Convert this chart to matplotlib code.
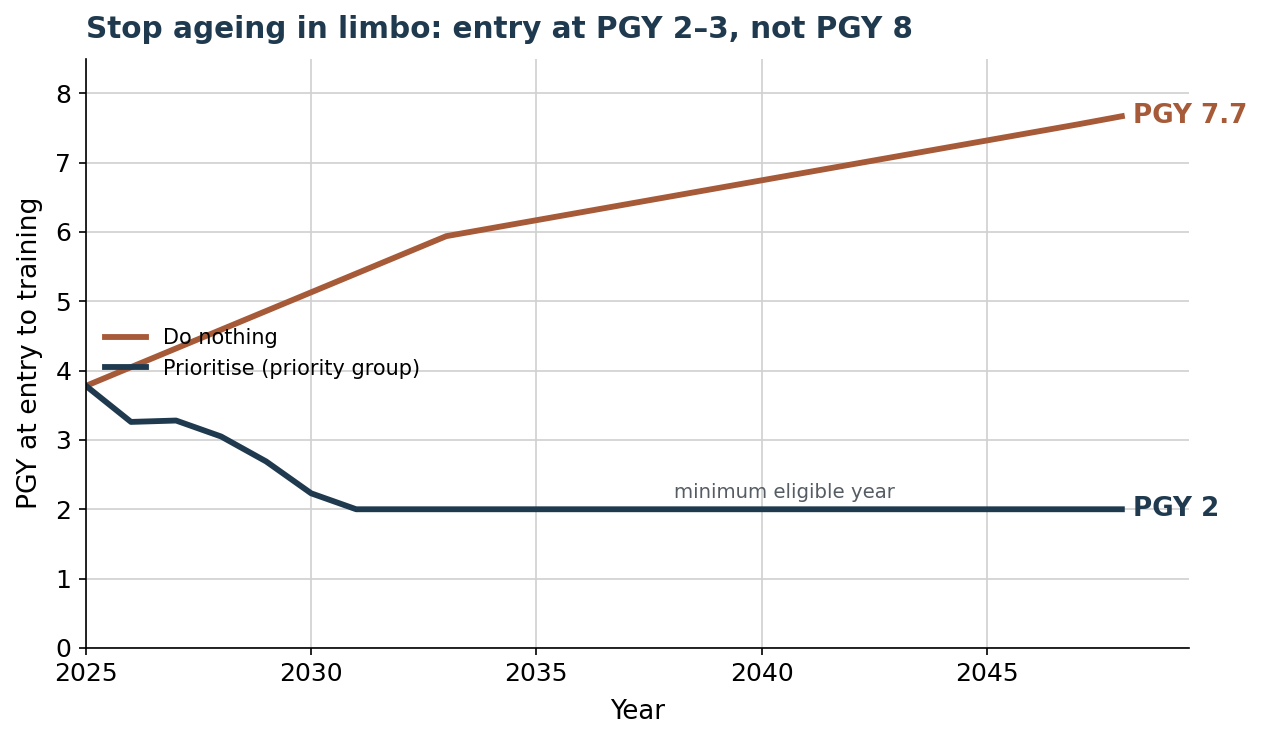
import numpy as np
import matplotlib.pyplot as plt

years = np.arange(2025, 2049)
do_nothing = [3.78, 4.05, 4.32, 4.59, 4.86, 5.13, 5.40, 5.67, 5.94,
              6.055, 6.17, 6.285, 6.40, 6.515, 6.63, 6.745, 6.86, 6.975,
              7.09, 7.205, 7.32, 7.435, 7.55, 7.67]
prioritise = [3.78, 3.26, 3.28, 3.05, 2.69, 2.23, 2.0] + [2.0] * 17

orange = '#A65A38'
navy = '#1F3A4F'

fig, ax = plt.subplots(figsize=(12.64 / 1.5, 7.43 / 1.5), dpi=150)
ax.plot(years, do_nothing, color=orange, lw=2.8, label='Do nothing')
ax.plot(years, prioritise, color=navy, lw=2.8, label='Prioritise (priority group)')

ax.text(years[-1] + 0.25, do_nothing[-1], f'PGY {do_nothing[-1]:.1f}', color=orange,
        fontsize=12.6, fontweight='bold', va='center', ha='left')
ax.text(years[-1] + 0.25, prioritise[-1], f'PGY {prioritise[-1]:.0f}', color=navy,
        fontsize=12.6, fontweight='bold', va='center', ha='left')
ax.text(2040.5, 2.1, 'minimum eligible year', color='#555c63', fontsize=9.5,
        ha='center', va='bottom')

ax.set_xlim(2025, 2049.5)
ax.set_ylim(0, 8.5)
ax.set_xticks([2025, 2030, 2035, 2040, 2045])
ax.set_yticks(range(0, 9))
ax.tick_params(labelsize=12)
ax.grid(True, color='#d0d0d0', lw=0.8)
ax.set_axisbelow(True)
for s in ['top', 'right']:
    ax.spines[s].set_visible(False)
ax.set_xlabel('Year', fontsize=12.5, labelpad=6)
ax.set_ylabel('PGY at entry to training', fontsize=12.8, labelpad=6)
ax.set_title('Stop ageing in limbo: entry at PGY 2–3, not PGY 8', loc='left',
             fontsize=14.2, fontweight='bold', color=navy, pad=10)
ax.legend(loc='center left', bbox_to_anchor=(0.0, 0.5), frameon=False, fontsize=10)

fig.subplots_adjust(left=0.068, right=0.941, top=0.921, bottom=0.128)
fig.savefig('out.png', dpi=150)
